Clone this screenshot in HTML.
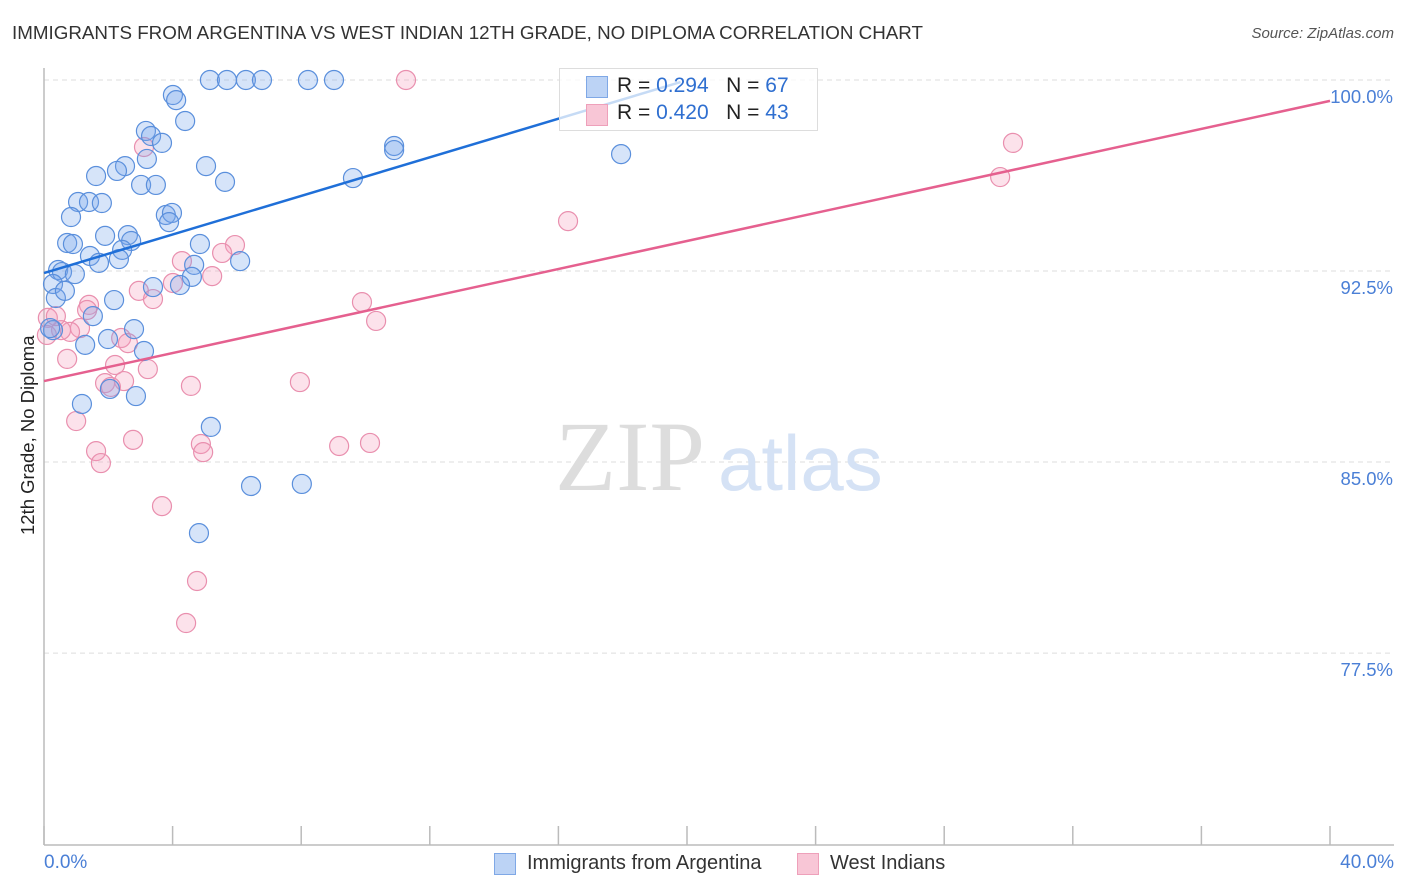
<!DOCTYPE html>
<html><head><meta charset="utf-8">
<style>
body{margin:0;background:#fff;font-family:"Liberation Sans",sans-serif;}
#wrap{position:relative;width:1406px;height:892px;overflow:hidden;}
.t{position:absolute;white-space:nowrap;}
</style></head>
<body>
<div id="wrap">
<div class="t" style="left:12px;top:22px;font-size:18.8px;color:#333;">IMMIGRANTS FROM ARGENTINA VS WEST INDIAN 12TH GRADE, NO DIPLOMA CORRELATION CHART</div>
<div class="t" style="right:12px;top:25px;font-size:15px;color:#555;font-style:italic;">Source: ZipAtlas.com</div>
<svg id="svg" width="1406" height="892" style="position:absolute;left:0;top:0"></svg>
</div>
<script>
const yTicks=[100,92.5,85,77.5];
const yTickLabels=["100.0%","92.5%","85.0%","77.5%"];
const xTickVals=[0,4,8,12,16,20,24,28,32,36,40];
const blueX=[5.16,5.69,6.28,6.78,8.21,9.02,4.01,4.11,4.39,3.17,3.33,3.67,3.20,2.52,2.27,1.62,3.02,3.48,5.04,5.63,9.61,10.89,10.89,17.95,1.06,1.40,1.80,0.84,3.79,3.98,3.89,1.90,2.61,2.71,2.43,2.33,4.85,0.72,0.90,1.43,1.71,4.67,6.10,4.60,4.23,3.39,0.44,0.56,0.96,0.28,0.37,0.65,2.18,1.52,2.80,1.28,1.99,3.11,0.28,0.19,1.18,2.05,2.86,5.19,6.44,8.02,4.82];
const blueY=[100,100,100,100,100,100,99.41,99.21,98.39,98.0,97.8,97.53,96.9,96.62,96.43,96.23,95.88,95.88,96.62,96.0,96.15,97.41,97.25,97.09,95.21,95.21,95.17,94.62,94.70,94.78,94.42,93.88,93.91,93.68,93.33,92.97,93.56,93.60,93.56,93.09,92.82,92.74,92.89,92.27,91.95,91.87,92.54,92.46,92.38,91.99,91.44,91.72,91.36,90.73,90.22,89.6,89.83,89.36,90.18,90.26,87.28,87.87,87.59,86.38,84.06,84.14,82.21];
const pinkX=[11.26,3.11,30.14,29.74,16.30,5.94,5.54,4.29,5.23,4.01,2.95,3.39,1.40,1.34,9.89,10.33,1.12,0.81,0.53,0.12,0.37,0.09,2.40,2.61,0.72,2.21,3.23,1.90,2.49,2.08,4.57,7.96,1.00,2.77,1.62,4.88,4.95,9.18,10.14,1.77,3.67,4.76,4.42];
const pinkY=[100,97.37,97.53,96.19,94.46,93.52,93.21,92.89,92.30,92.03,91.72,91.40,91.17,90.97,91.28,90.54,90.26,90.11,90.18,90.66,90.73,89.99,89.87,89.67,89.05,88.81,88.65,88.10,88.18,87.95,87.99,88.14,86.61,85.87,85.43,85.71,85.39,85.63,85.75,84.96,83.27,80.33,78.68];
const blueTrendX=[0,19.8];
const blueTrendY=[92.42,99.92];
const pinkTrendX=[0,40];
const pinkTrendY=[88.18,99.18];

const NS="http://www.w3.org/2000/svg";
const svg=document.getElementById('svg');
const sx=v=>44+v*32.15;
const sy=v=>80+(100-v)*25.47;
function mk(tag,attrs,parent){const e=document.createElementNS(NS,tag);for(const k in attrs)e.setAttribute(k,attrs[k]);(parent||svg).appendChild(e);return e;}

yTicks.forEach((v,i)=>{
  const g=mk('line',{x1:44,x2:1394,y1:sy(v),y2:sy(v),stroke:'#ddd','stroke-dasharray':'5,4'});
  
  
  const t=mk('text',{x:1393,y:sy(v)+23,'text-anchor':'end','font-size':18.5,fill:'#4a7fd6','font-family':'Liberation Sans, sans-serif'});
  t.textContent=yTickLabels[i];
  
  
});
const ax=mk('line',{x1:44,x2:44,y1:68,y2:845,stroke:'#bbb','stroke-width':1.5});


const bx=mk('line',{x1:44,x2:1394,y1:845,y2:845,stroke:'#bbb','stroke-width':1.5});


xTickVals.forEach(v=>{
  const l=mk('line',{x1:sx(v),x2:sx(v),y1:826,y2:845,stroke:'#bbb','stroke-width':1.5});
  
  
});

const w1=mk('text',{x:555,y:490,'font-size':100,fill:'#ddd','font-family':'Liberation Serif, serif'});
w1.textContent='ZIP';


const w2=mk('text',{x:718,y:490,'font-size':78,fill:'#d5e2f5','font-family':'Liberation Sans, sans-serif'});
w2.textContent='atlas';



pinkX.forEach((x,i)=>{
  const c=mk('circle',{cx:sx(x),cy:sy(pinkY[i]),r:9.5,fill:'rgba(244,160,190,0.3)',stroke:'#e98fae','stroke-width':1.2});
  
  
});
blueX.forEach((x,i)=>{
  const c=mk('circle',{cx:sx(x),cy:sy(blueY[i]),r:9.5,fill:'rgba(120,165,235,0.3)',stroke:'#5a8fdc','stroke-width':1.2});
  
  
});
const bl=mk('line',{x1:sx(blueTrendX[0]),y1:sy(blueTrendY[0]),x2:sx(blueTrendX[1]),y2:sy(blueTrendY[1]),stroke:'#1f6fd8','stroke-width':2.5});


const pl=mk('line',{x1:sx(pinkTrendX[0]),y1:sy(pinkTrendY[0]),x2:sx(pinkTrendX[1]),y2:sy(pinkTrendY[1]),stroke:'#e5608f','stroke-width':2.5});


</script>
<div class="t" style="left:559px;top:68px;width:257px;height:61px;background:rgba(255,255,255,0.75);border:1px solid #ddd;">
  <div style="position:absolute;left:26px;top:7px;width:20px;height:20px;background:#bcd3f5;border:1px solid #7fa8e6;"></div>
  <div class="t" style="left:57px;top:5px;font-size:21px;color:#222;">R = <span style="color:#2f6fd0">0.294</span>&nbsp;&nbsp;&nbsp;N = <span style="color:#2f6fd0">67</span></div>
  <div style="position:absolute;left:26px;top:35px;width:20px;height:20px;background:#f8c6d6;border:1px solid #eea0ba;"></div>
  <div class="t" style="left:57px;top:32px;font-size:21px;color:#222;">R = <span style="color:#2f6fd0">0.420</span>&nbsp;&nbsp;&nbsp;N = <span style="color:#2f6fd0">43</span></div>
</div>
<div class="t" style="left:44px;top:852px;font-size:19px;color:#4a7fd6;">0.0%</div>
<div class="t" style="right:12px;top:852px;font-size:19px;color:#4a7fd6;">40.0%</div>
<div class="t" style="left:-52px;top:444px;font-size:18.5px;color:#222;transform:rotate(-90deg);transform-origin:center;width:160px;text-align:center;">12th Grade, No Diploma</div>
<div class="t" style="left:494px;top:853px;width:22px;height:22px;background:#bcd3f5;border:1px solid #7fa8e6;box-sizing:border-box;"></div>
<div class="t" style="left:527px;top:852px;font-size:20px;color:#333;">Immigrants from Argentina</div>
<div class="t" style="left:797px;top:853px;width:22px;height:22px;background:#f8c6d6;border:1px solid #eea0ba;box-sizing:border-box;"></div>
<div class="t" style="left:830px;top:852px;font-size:20px;color:#333;">West Indians</div>
</body></html>
